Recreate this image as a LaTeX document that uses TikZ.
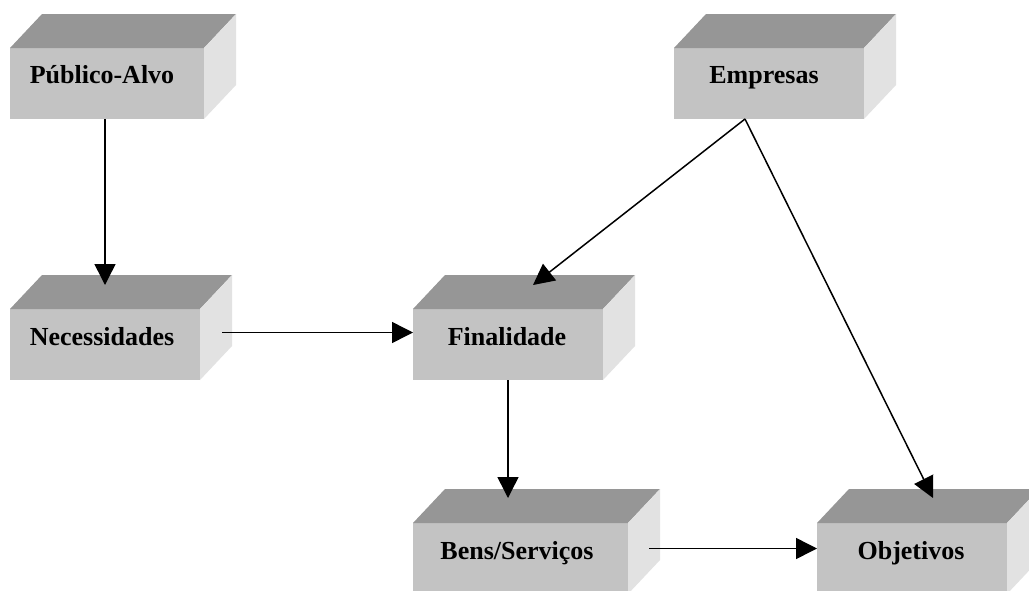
\documentclass[tikz,border=0pt]{standalone}
\usepackage{fontspec}
\setmainfont{Liberation Serif}
\usetikzlibrary{arrows.meta,calc}

\definecolor{facetop}{RGB}{150,150,150}
\definecolor{facefront}{RGB}{195,195,195}
\definecolor{faceside}{RGB}{226,226,226}

\newcommand\depthx{32}
\newcommand\depthy{34}

% a solid block: front face node plus its top and right faces
\newcommand\solidblock[3]{%
  \node[frontface, minimum width=#3pt, anchor=north west] (#1) at (#2) {};
  \fill[facetop] (#1.north west) -- ++(\depthx,-\depthy)
    -- ([shift={(\depthx,-\depthy)}]#1.north east) -- (#1.north east) -- cycle;
  \fill[faceside] (#1.north east) -- ++(\depthx,-\depthy)
    -- ([shift={(\depthx,-\depthy)}]#1.south east) -- (#1.south east) -- cycle;
}

\tikzset{
  frontface/.style={rectangle, fill=facefront, draw=none, minimum height=71pt,
    inner sep=0pt, outer sep=0pt},
  blocktext/.style={anchor=base, inner sep=0pt,
    font=\fontsize{26}{30}\selectfont\bfseries},
  arr/.style={draw=black, line width=1.5pt,
    -{Triangle[length=21pt,width=21pt]}},
}

\begin{document}
\begin{tikzpicture}[x=1pt, y=-1pt]
  \useasboundingbox (0,0) rectangle (1029,590);
  \clip (0,0) rectangle (1029,590);
  \fill[white] (0,0) rectangle (1029,590);

  % blocks
  \solidblock{pub}{10,48}{194}
  \solidblock{nec}{10,309}{190}
  \solidblock{fin}{413,309}{190}
  \solidblock{emp}{674,48}{190}
  \solidblock{bens}{413,523}{215}
  \solidblock{obj}{817,523}{190}

  % labels
  \node[blocktext] (pub-t)  at (102,83)  {Público-Alvo};
  \node[blocktext] (nec-t)  at (102,345) {Necessidades};
  \node[blocktext] (fin-t)  at (507,345) {Finalidade};
  \node[blocktext] (emp-t)  at (764,83)  {Empresas};
  \node[blocktext] (bens-t) at (517,559) {Bens/Serviços};
  \node[blocktext] (obj-t)  at (911,559) {Objetivos};

  % connectors
  \draw[arr] ([xshift=-2pt]pub.south) -- ($(pub.south |- nec.north)+(-2,-24)$);
  \draw[arr] ($(nec.east)+(22,-12)$) -- ($(fin.west)+(0,-12)$);
  \draw[arr] (fin.south) -- ($(fin.south |- bens.north)+(0,-25)$);
  \draw[arr] ($(bens.east)+(21,-10)$) -- ($(obj.west)+(0,-10)$);
  \draw[arr] ($(emp.south)+(-24,0)$) -- ($(fin.north)+(25,-24)$);
  \draw[arr] ($(emp.south)+(-24,0)$) -- ($(obj.north)+(21,-25)$);
\end{tikzpicture}
\end{document}
